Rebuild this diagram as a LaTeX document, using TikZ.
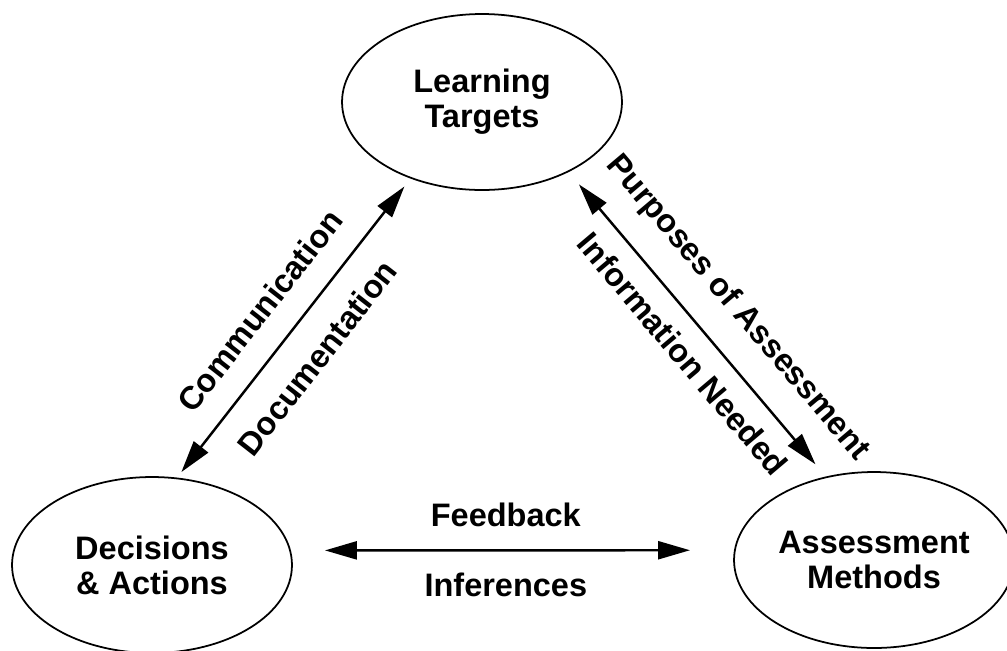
\documentclass[tikz,border=0pt]{standalone}
\usepackage{fontspec}
\setmainfont{Liberation Sans}
\usetikzlibrary{shapes}
\usetikzlibrary{arrows.meta}

\begin{document}
\begin{tikzpicture}[x=0.02cm,y=-0.02cm]
	\tikzstyle{topic}=[ellipse,draw,line width=1pt,minimum width=5.6cm,minimum height=3.52cm,inner sep=0pt,align=center,font=\fontsize{18.5}{20}\selectfont\bfseries]
	\tikzstyle{link}=[{Triangle[length=0.64cm,width=0.36cm]}-{Triangle[length=0.64cm,width=0.36cm]},line width=1.4pt]
	\tikzstyle{tag}=[sloped,inner sep=0pt,font=\fontsize{18.5}{20}\selectfont\bfseries]
	\useasboundingbox (0,0) rectangle (1007,650);
	\node[topic] (lt) at (482,102) {Learning\\Targets};
	\node[topic] (dec) at (152,565) {Decisions\\\& Actions};
	\node[topic] (am) at (874,560) {Assessment\\Methods};
	\draw[link,shorten <=0.14cm,shorten >=0.2cm] (dec.74) -- (lt.227)
		node[tag,pos=0.481,yshift=0.75cm] (comm) {Communication}
		node[tag,pos=0.476,yshift=-0.73cm] (docu) {Documentation};
	\draw[link,shorten <=0.32cm,shorten >=0.32cm] (lt.321) -- (am.120)
		node[tag,pos=0.534,yshift=0.82cm] (purp) {Purposes of Assessment}
		node[tag,pos=0.534,yshift=-0.6cm] (info) {Information Needed};
	\draw[link,shorten <=0.68cm,shorten >=0.88cm] (dec.6) -- (am.176)
		node[tag,pos=0.485,yshift=0.7cm] (feed) {Feedback}
		node[tag,pos=0.485,yshift=-0.7cm] (infer) {Inferences};
\end{tikzpicture}
\end{document}
